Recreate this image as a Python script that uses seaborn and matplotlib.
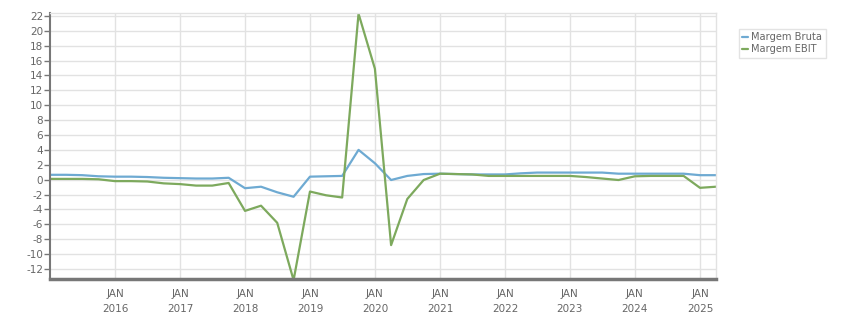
import numpy as np
import pandas as pd
import matplotlib
matplotlib.use("Agg")
import matplotlib.pyplot as plt
import matplotlib.dates as mdates
import seaborn as sns

# Quarterly data points (2015 Q1 .. 2025 Q2)
quarters = pd.date_range("2015-01-01", periods=42, freq="QS")
margem_bruta = [0.65, 0.65, 0.6, 0.45, 0.4, 0.4, 0.35, 0.25, 0.2, 0.15, 0.15, 0.25,
                -1.15, -0.95, -1.7, -2.3, 0.4, 0.45, 0.5, 4.0, 2.2, -0.05, 0.5, 0.75,
                0.8, 0.75, 0.7, 0.7, 0.7, 0.85, 0.95, 0.95, 0.95, 0.95, 0.95, 0.8,
                0.8, 0.8, 0.8, 0.8, 0.6, 0.6]
margem_ebit = [0.1, 0.1, 0.1, 0.05, -0.2, -0.2, -0.25, -0.5, -0.6, -0.8, -0.8, -0.45,
               -4.2, -3.5, -5.8, -13.5, -1.6, -2.1, -2.4, 22.3, 14.9, -8.8, -2.6, -0.05,
               0.8, 0.75, 0.7, 0.5, 0.5, 0.5, 0.5, 0.5, 0.5, 0.35, 0.15, -0.05,
               0.45, 0.5, 0.5, 0.5, -1.1, -0.95]
series_names = ["Margem Bruta", "Margem EBIT"]
colors = ["#6eaad2", "#7da95d"]
tick_years = list(range(2016, 2026))
yticks = list(range(-12, 23, 2))

df = pd.DataFrame({
    "date": list(quarters) * 2,
    "value": margem_bruta + margem_ebit,
    "serie": [series_names[0]] * len(quarters) + [series_names[1]] * len(quarters),
})

sns.set_style("white")
plt.rcParams["font.family"] = ["DejaVu Sans"]

fig = plt.figure(figsize=(8.51, 3.13), dpi=100)
ax = fig.add_axes([50 / 851, (313 - 279) / 313, (716 - 50) / 851, (279 - 13.3) / 313])

sns.lineplot(data=df, x="date", y="value", hue="serie", palette=colors,
             linewidth=1.6, ax=ax, legend=True)

ax.set_xlim(pd.Timestamp("2015-01-01"), pd.Timestamp("2025-04-01"))
ax.set_ylim(-13.35, 22.35)
ax.set_yticks(yticks)
ax.set_yticklabels([str(v) for v in yticks])
xt = [pd.Timestamp(f"{y}-01-01") for y in tick_years]
ax.set_xticks(xt)
ax.set_xticklabels([f"JAN\n{y}" for y in tick_years])

ax.grid(True, color="#e2e2e2", linewidth=1.0)
ax.set_axisbelow(True)
ax.set_xlabel("")
ax.set_ylabel("")

for s in ["top", "right"]:
    ax.spines[s].set_color("#e2e2e2")
    ax.spines[s].set_linewidth(1.0)
ax.spines["left"].set_color("#777777")
ax.spines["left"].set_linewidth(1.5)
ax.spines["bottom"].set_color("#777777")
ax.spines["bottom"].set_linewidth(2.5)

ax.tick_params(axis="y", which="both", left=True, length=4, width=1, color="#777777",
               labelsize=7.5, labelcolor="#666666", pad=1)
ax.tick_params(axis="x", which="both", bottom=False, labelsize=7.5,
               labelcolor="#666666", pad=4)
for lab in ax.get_xticklabels():
    lab.set_linespacing(1.6)

leg = ax.legend(loc="upper left", bbox_to_anchor=(739 / 851, (313 - 29) / 313),
                bbox_transform=fig.transFigure, frameon=True, fontsize=7.1,
                handlelength=0.6, handletextpad=0.3, borderpad=0.35, labelspacing=0.2,
                fancybox=False, title=None, borderaxespad=0)
leg.get_frame().set_edgecolor("#dddddd")
leg.get_frame().set_linewidth(1.0)
for t in leg.get_texts():
    t.set_color("#666666")

fig.savefig("out.png", dpi=100)
